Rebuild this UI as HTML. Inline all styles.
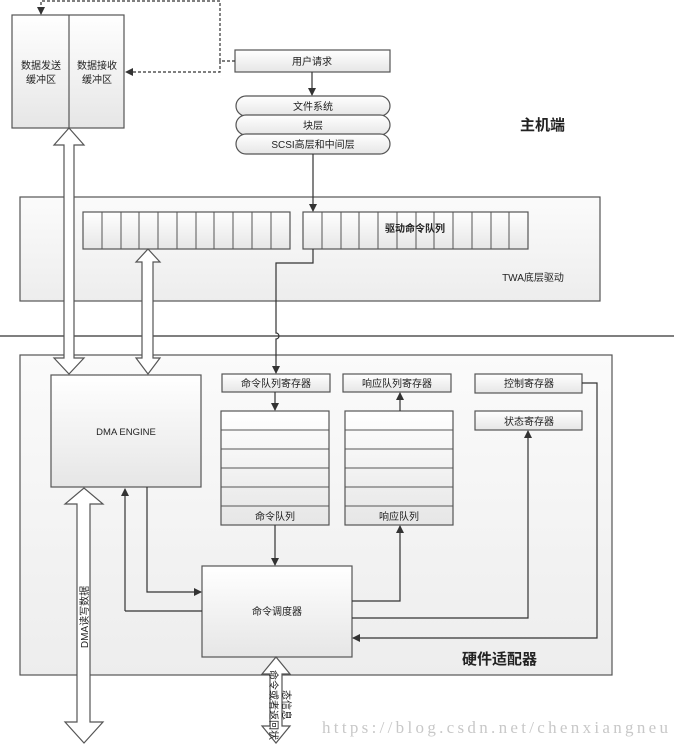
<!DOCTYPE html>
<html><head><meta charset="utf-8"><style>body{margin:0;background:#fff}svg{display:block}text{font-family:"Liberation Sans","Noto Sans CJK SC",sans-serif;fill:#222}</style></head><body>
<svg width="674" height="747" viewBox="0 0 674 747" xmlns="http://www.w3.org/2000/svg">
<defs>
<linearGradient id="g" x1="0" y1="0" x2="0" y2="1"><stop offset="0" stop-color="#fff"/><stop offset="1" stop-color="#e6e6e6"/></linearGradient>
<linearGradient id="gb" x1="0" y1="0" x2="0" y2="1"><stop offset="0" stop-color="#fbfbfb"/><stop offset="1" stop-color="#ededed"/></linearGradient>
<marker id="a" markerWidth="8" markerHeight="8" refX="7" refY="4" orient="auto" markerUnits="userSpaceOnUse"><path d="M0,0 L8,4 L0,8z" fill="#333"/></marker>
</defs>
<g stroke="#555" stroke-width="1.2">
<rect x="20" y="197" width="580" height="104" fill="url(#gb)"/>
<rect x="20" y="355" width="592" height="320" fill="url(#gb)"/>
<line x1="0" y1="336" x2="674" y2="336" stroke="#333"/>
<rect x="12" y="15" width="112" height="113" fill="url(#g)"/>
<line x1="69" y1="15" x2="69" y2="128"/>
<rect x="235" y="50" width="155" height="22" fill="url(#g)"/>
<rect x="236" y="96" width="154" height="20" rx="10" fill="url(#g)"/>
<rect x="236" y="115" width="154" height="20" rx="10" fill="url(#g)"/>
<rect x="236" y="134" width="154" height="20" rx="10" fill="url(#g)"/>
<rect x="83" y="212" width="207" height="37" fill="url(#g)"/>
<rect x="303" y="212" width="225" height="37" fill="url(#g)"/>
</g>
<g stroke="#555" stroke-width="1">
<line x1="102" y1="212" x2="102" y2="249"/><line x1="121" y1="212" x2="121" y2="249"/><line x1="139" y1="212" x2="139" y2="249"/><line x1="158" y1="212" x2="158" y2="249"/><line x1="177" y1="212" x2="177" y2="249"/><line x1="196" y1="212" x2="196" y2="249"/><line x1="214" y1="212" x2="214" y2="249"/><line x1="233" y1="212" x2="233" y2="249"/><line x1="252" y1="212" x2="252" y2="249"/><line x1="271" y1="212" x2="271" y2="249"/>
<line x1="322" y1="212" x2="322" y2="249"/><line x1="341" y1="212" x2="341" y2="249"/><line x1="359" y1="212" x2="359" y2="249"/><line x1="378" y1="212" x2="378" y2="249"/><line x1="397" y1="212" x2="397" y2="249"/><line x1="416" y1="212" x2="416" y2="249"/><line x1="434" y1="212" x2="434" y2="249"/><line x1="453" y1="212" x2="453" y2="249"/><line x1="472" y1="212" x2="472" y2="249"/><line x1="491" y1="212" x2="491" y2="249"/><line x1="509" y1="212" x2="509" y2="249"/>
</g>
<g stroke="#555" stroke-width="1.2" fill="url(#g)">
<rect x="51" y="375" width="150" height="112"/>
<rect x="222" y="374" width="108" height="18"/>
<rect x="343" y="374" width="108" height="18"/>
<rect x="475" y="374" width="107" height="19"/>
<rect x="475" y="411" width="107" height="19"/>
<rect x="221" y="411" width="108" height="114"/>
<rect x="345" y="411" width="108" height="114"/>
<rect x="202" y="566" width="150" height="91"/>
</g>
<g stroke="#555" stroke-width="1">
<line x1="221" y1="430" x2="329" y2="430"/><line x1="221" y1="449" x2="329" y2="449"/><line x1="221" y1="468" x2="329" y2="468"/><line x1="221" y1="487" x2="329" y2="487"/><line x1="221" y1="506" x2="329" y2="506"/>
<line x1="345" y1="430" x2="453" y2="430"/><line x1="345" y1="449" x2="453" y2="449"/><line x1="345" y1="468" x2="453" y2="468"/><line x1="345" y1="487" x2="453" y2="487"/><line x1="345" y1="506" x2="453" y2="506"/>
</g>
<g stroke="#333" stroke-width="1.2" fill="none">
<path d="M235,61 H220 V1 H41 V14" stroke-dasharray="3,2" marker-end="url(#a)"/>
<path d="M220,61 V72 H126" stroke-dasharray="3,2" marker-end="url(#a)"/>
<path d="M312,72 V95" marker-end="url(#a)"/>
<path d="M313,154 V211" marker-end="url(#a)"/>
<path d="M313,249 V263 H276 V333 A3,3 0 0 1 276,339 V373" marker-end="url(#a)"/>
<path d="M275,392 V410" marker-end="url(#a)"/>
<path d="M400,411 V393" marker-end="url(#a)"/>
<path d="M125,611 V489" marker-end="url(#a)"/>
<path d="M125,611 H202"/>
<path d="M147,487 V592 H201" marker-end="url(#a)"/>
<path d="M275,525 V565" marker-end="url(#a)"/>
<path d="M352,601 H400 V526" marker-end="url(#a)"/>
<path d="M352,618 H528 V431" marker-end="url(#a)"/>
<path d="M582,383 H597 V638 H353" marker-end="url(#a)"/>
</g>
<g stroke="#555" stroke-width="1.2" fill="#fff">
<path d="M64,145 H54 L69,128 L84,145 H74 V358 H84 L69,374 L54,358 H64 Z"/>
<path d="M142,262 H136 L148,249 L160,262 H153 V358 H160 L148,374 L136,358 H142 Z"/>
<path d="M77,504 H65 L84,488 L103,504 H90 V722 H103 L84,743 L65,722 H77 Z"/>
<path d="M270,674 H262 L276,657 L290,674 H282 V726 H290 L276,743 L262,726 H270 Z"/>
</g>
<g font-size="10" text-anchor="middle">
<text x="41" y="69">数据发送</text><text x="41" y="83">缓冲区</text>
<text x="97" y="69">数据接收</text><text x="97" y="83">缓冲区</text>
<text x="312" y="65">用户请求</text>
<text x="313" y="110">文件系统</text>
<text x="313" y="129">块层</text>
<text x="313" y="148">SCSI高层和中间层</text>
<text x="415" y="232" font-weight="bold">驱动命令队列</text>
<text x="533" y="281">TWA底层驱动</text>
<text x="126" y="435" font-size="9.5">DMA ENGINE</text>
<text x="276" y="387">命令队列寄存器</text>
<text x="397" y="387">响应队列寄存器</text>
<text x="529" y="387">控制寄存器</text>
<text x="529" y="425">状态寄存器</text>
<text x="275" y="520">命令队列</text>
<text x="399" y="520">响应队列</text>
<text x="277" y="615">命令调度器</text>
<text transform="translate(88,617) rotate(-90)">DMA读写数据</text>
<text transform="translate(270,705) rotate(90)" font-size="10">命令或者返回状</text>
<text transform="translate(283,705) rotate(90)" font-size="10">态信息</text>
</g>
<text x="520" y="130" font-size="15" font-weight="bold">主机端</text>
<text x="462" y="664" font-size="15" font-weight="bold">硬件适配器</text>
<text x="322" y="733" font-size="17" textLength="346" lengthAdjust="spacing" style="font-family:'Liberation Serif',serif;fill:#c8c8c8">https://blog.csdn.net/chenxiangneu</text>
</svg>
</body></html>
